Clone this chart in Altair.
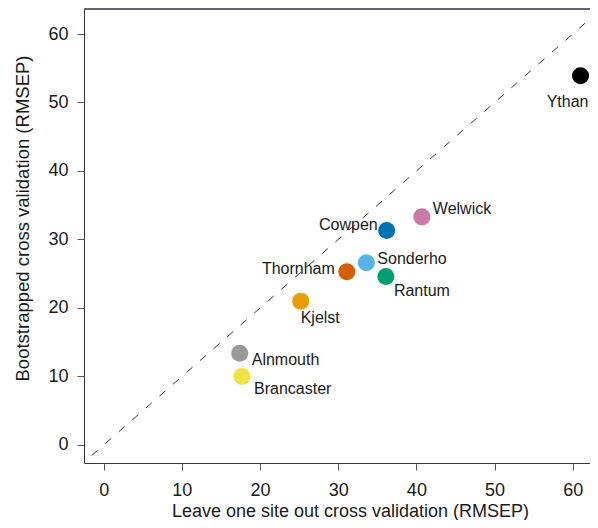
import altair as alt
import pandas as pd

sites = ["Ythan", "Welwick", "Cowpen", "Sonderho", "Thornham", "Rantum", "Kjelst", "Alnmouth", "Brancaster"]
loso = [61.0, 40.7, 36.2, 33.6, 31.1, 36.1, 25.2, 17.4, 17.7]
boot = [53.9, 33.3, 31.3, 26.6, 25.3, 24.6, 21.0, 13.4, 10.0]
colors = ["#000000", "#CC79A7", "#0072B2", "#56B4E9", "#D55E00", "#009E73", "#E69F00", "#999999", "#F0E442"]
diag = [-5, 70]

df = pd.DataFrame({"site": sites, "loso": loso, "boot": boot})
line_df = pd.DataFrame({"a": diag, "b": diag})

FONT = "Liberation Sans"
W, H = 506, 454
xs = alt.Scale(domain=[-2.52, 62.21], nice=False, zero=False)
ys = alt.Scale(domain=[-2.63, 63.65], nice=False, zero=False)

xaxis = alt.Axis(values=[0, 10, 20, 30, 40, 50, 60], grid=False, tickSize=7,
                 labelFontSize=18, labelPadding=11, labelColor="#1a1a1a",
                 domainColor="#333340", tickColor="#555560", labelFont=FONT,
                 title="Leave one site out cross validation (RMSEP)", titleFont=FONT,
                 titleFontSize=18, titleFontWeight="normal", titleColor="#1a1a1a",
                 titleX=266, titleY=48, titleBaseline="middle")
yaxis = alt.Axis(values=[0, 10, 20, 30, 40, 50, 60], grid=False, tickSize=7,
                 labelFontSize=18, labelPadding=9, labelColor="#1a1a1a",
                 domainColor="#333340", tickColor="#555560", labelFont=FONT,
                 title="Bootstrapped cross validation (RMSEP)", titleFont=FONT,
                 titleFontSize=18.5, titleFontWeight="normal", titleColor="#1a1a1a",
                 titleX=-62, titleY=209, titleBaseline="middle", titleAngle=270)

line = alt.Chart(line_df).mark_line(color="#333340", strokeWidth=1, strokeDash=[8, 10], clip=True).encode(
    x=alt.X("a:Q", scale=xs, axis=xaxis),
    y=alt.Y("b:Q", scale=ys, axis=yaxis),
)

top = alt.Chart(line_df).mark_rule(color="#333340", strokeWidth=1).encode(
    x=alt.value(0), x2=alt.value(W), y=alt.value(0)
)

pts = alt.Chart(df).mark_circle(size=290, opacity=1).encode(
    x=alt.X("loso:Q", scale=xs),
    y=alt.Y("boot:Q", scale=ys),
    color=alt.Color("site:N", scale=alt.Scale(domain=sites, range=colors), legend=None),
)

offsets = {
    "Ythan": ("center", -13, 26),
    "Welwick": ("left", 11, -8),
    "Cowpen": ("right", -9, -6),
    "Sonderho": ("left", 11, -4),
    "Thornham": ("right", -12, -3),
    "Rantum": ("left", 8, 15),
    "Kjelst": ("left", 0, 17),
    "Alnmouth": ("left", 12, 7),
    "Brancaster": ("left", 12, 13),
}

labels = []
for s in sites:
    al, dx, dy = offsets[s]
    labels.append(
        alt.Chart(df).transform_filter(alt.datum.site == s).mark_text(
            align=al, baseline="middle", dx=dx, dy=dy, fontSize=16, font=FONT, color="#1a1a1a"
        ).encode(x=alt.X("loso:Q", scale=xs), y=alt.Y("boot:Q", scale=ys), text="site:N")
    )

chart = alt.layer(line, top, pts, *labels).properties(
    width=W, height=H,
    autosize=alt.AutoSizeParams(type="none"),
    padding={"left": 76, "top": 1, "right": 0, "bottom": 57},
).configure_view(stroke=None)

chart.save("out.html", embed_options={"renderer": "svg", "actions": False})
